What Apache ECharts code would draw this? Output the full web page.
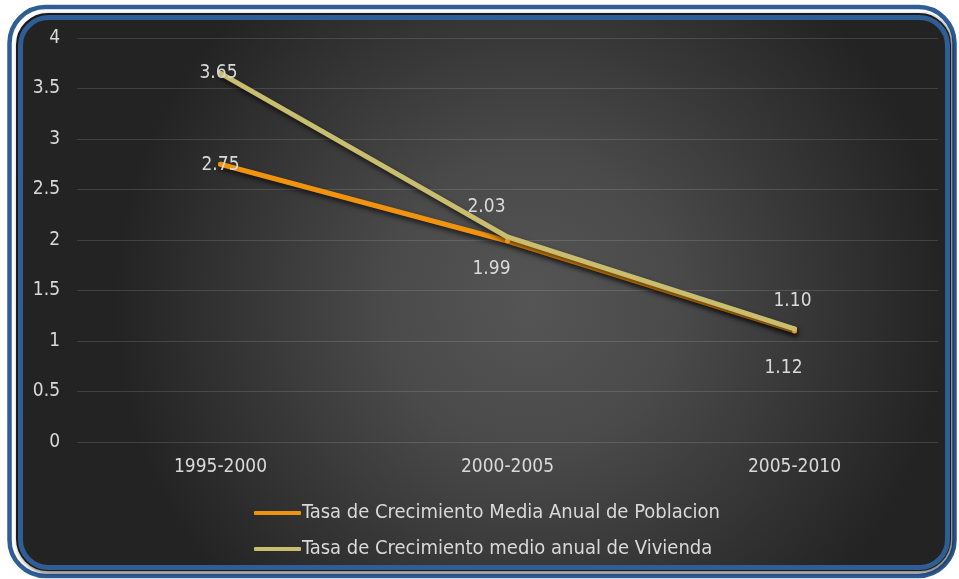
<!DOCTYPE html>
<html>
<head>
<meta charset="utf-8">
<script src="https://cdn.jsdelivr.net/npm/echarts@6/dist/echarts.min.js"></script>
<style>
  html, body { margin: 0; padding: 0; background: #ffffff; }
  #chart { width: 959px; height: 579px; }
</style>
</head>
<body>
<div id="chart"></div>
<script>
// Periods on the category axis
const periods = ['1995-2000', '2000-2005', '2005-2010'];
// Average annual growth rates (%)
const poblacion = [2.75, 1.99, 1.10];
const vivienda = [3.65, 2.03, 1.12];
const seriesNames = [
  'Tasa de Crecimiento Media Anual de Poblacion',
  'Tasa de Crecimiento medio anual de Vivienda'
];
// Label offsets per point (pixels), so the two series' labels don't collide
const poblacionLabelOffsets = [[0, 1], [-16, 28], [-2, -30]];
const viviendaLabelOffsets = [[-2, 0], [-21, -30], [-11, 39]];

const FONT = '"DejaVu Sans Condensed", "DejaVu Sans", sans-serif';
const TEXT = '#d9d9d9';

function withLabels(values, offsets) {
  return values.map((v, i) => ({
    value: v,
    label: { position: 'inside', offset: offsets[i] }
  }));
}

function lineSeries(name, values, offsets, color) {
  return {
    name: name,
    type: 'line',
    data: withLabels(values, offsets),
    symbol: 'circle',
    symbolSize: 5,
    itemStyle: { color: color },
    lineStyle: {
      color: color, width: 5, cap: 'round', join: 'round',
      shadowColor: 'rgba(0,0,0,0.7)', shadowBlur: 5, shadowOffsetX: 1, shadowOffsetY: 3
    },
    label: {
      show: true, color: TEXT, fontFamily: FONT, fontSize: 19,
      formatter: p => p.value.toFixed(2)
    },
    emphasis: { disabled: true },
    animation: false
  };
}

const chart = echarts.init(document.getElementById('chart'));
chart.setOption({
  animation: false,
  graphic: [
    // outer blue frame
    { type: 'rect', z: -10, shape: { x: 9.5, y: 7, width: 945, height: 569, r: 36 },
      style: { fill: '#ffffff', stroke: '#2f5d96', lineWidth: 4.5 } },
    // thin dark outline under the panel
    { type: 'rect', z: -9, shape: { x: 17, y: 14, width: 933, height: 556, r: 31 },
      style: { fill: '#1a1a1a', stroke: '#1a1a1a', lineWidth: 2,
        shadowColor: 'rgba(0,0,0,0.5)', shadowBlur: 4, shadowOffsetX: 2, shadowOffsetY: 2 } },
    // chart panel with radial gradient and blue border
    { type: 'rect', z: -8, shape: { x: 20.5, y: 17.5, width: 927, height: 550, r: 28 },
      style: {
        fill: new echarts.graphic.RadialGradient(0.55, 0.52, 0.75, [
          { offset: 0, color: '#555555' },
          { offset: 0.35, color: '#4a4a4a' },
          { offset: 1, color: '#232323' }
        ]),
        stroke: '#2f5d96', lineWidth: 5
      } }
  ],
  grid: { left: 77, right: 21, top: 38, bottom: 137, containLabel: false },
  legend: {
    orient: 'vertical',
    left: 249, top: 498,
    itemWidth: 47, itemHeight: 4, itemGap: 16,
    icon: 'roundRect',
    textStyle: { color: TEXT, fontFamily: FONT, fontSize: 20, padding: [0, 0, 0, -4] },
    data: seriesNames
  },
  xAxis: {
    type: 'category',
    data: periods,
    boundaryGap: true,
    axisLine: { show: false },
    axisTick: { show: false },
    axisLabel: { color: TEXT, fontFamily: FONT, fontSize: 19, margin: 16 }
  },
  yAxis: {
    type: 'value',
    min: 0, max: 4, interval: 0.5,
    axisLine: { show: false },
    axisTick: { show: false },
    axisLabel: { color: TEXT, fontFamily: FONT, fontSize: 19, margin: 17 },
    splitLine: { lineStyle: { color: 'rgba(255,255,255,0.13)', width: 1 } }
  },
  series: [
    lineSeries(seriesNames[0], poblacion, poblacionLabelOffsets, '#f0930f'),
    lineSeries(seriesNames[1], vivienda, viviendaLabelOffsets, '#c9bd6f')
  ]
});
</script>
</body>
</html>
